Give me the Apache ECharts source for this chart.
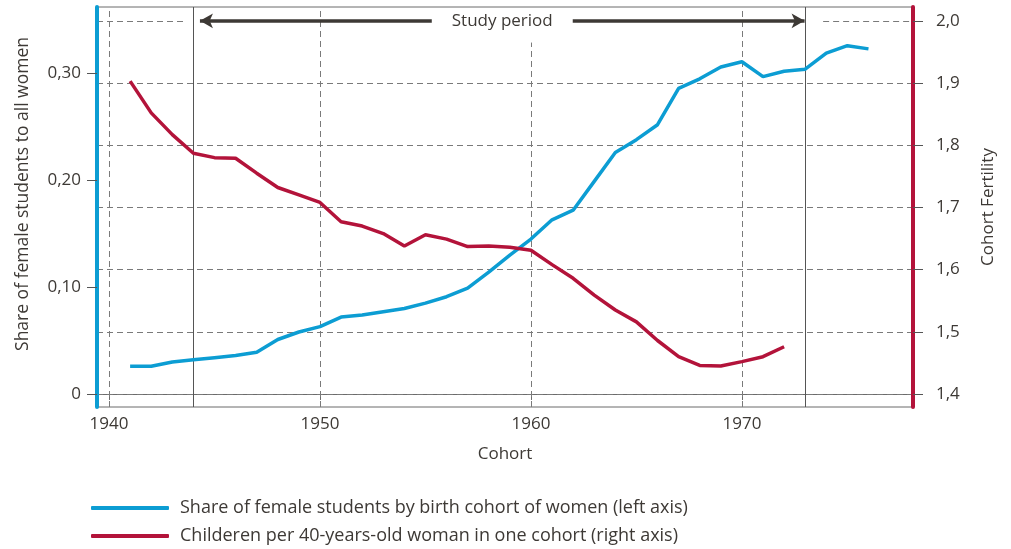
<!DOCTYPE html>
<html>
<head>
<meta charset="utf-8">
<script src="https://cdn.jsdelivr.net/npm/echarts@6/dist/echarts.min.js"></script>
<style>
html,body{margin:0;padding:0;background:#fff;}
#chart{width:1011px;height:549px;}
</style>
</head>
<body>
<div id="chart"></div>
<script>
// ---- data ----
const shareYears = [1941,1942,1943,1944,1945,1946,1947,1948,1949,1950,1951,1952,1953,1954,1955,1956,1957,1958,1959,1960,1961,1962,1963,1964,1965,1966,1967,1968,1969,1970,1971,1972,1973,1974,1975,1976];
const shareStudents = [0.026,0.026,0.030,0.032,0.034,0.036,0.039,0.051,0.058,0.063,0.072,0.074,0.077,0.080,0.085,0.091,0.099,0.114,0.130,0.145,0.163,0.172,0.199,0.226,0.238,0.252,0.286,0.295,0.306,0.311,0.297,0.302,0.304,0.319,0.326,0.323];
const fertilityYears = [1941,1942,1943,1944,1945,1946,1947,1948,1949,1950,1951,1952,1953,1954,1955,1956,1957,1958,1959,1960,1961,1962,1963,1964,1965,1966,1967,1968,1969,1970,1971,1972];
const fertility = [1.903,1.852,1.817,1.787,1.780,1.779,1.755,1.732,1.720,1.708,1.677,1.670,1.658,1.638,1.656,1.649,1.637,1.638,1.636,1.631,1.608,1.586,1.559,1.535,1.516,1.486,1.460,1.446,1.445,1.452,1.460,1.476];
const xTicks = [1940,1950,1960,1970];
const leftTicks = [0,0.1,0.2,0.3];
const rightTicks = [1.4,1.5,1.6,1.7,1.8,1.9,2.0];
const studyStart = 1944, studyEnd = 1973;
const seriesNames = ['Share of female students by birth cohort of women (left axis)','Childeren per 40-years-old woman in one cohort (right axis)'];

// ---- styles ----
const FONT = '"Open Sans", "Liberation Sans", sans-serif';
const TXT = '#3d3935';
const BLUE = '#0c9dd3';
const RED = '#b3133a';
const GRID = '#7a7a7a';
const X_MIN = 1939.43, X_MAX = 1978.11;
const L_MIN = -0.0122, L_MAX = 0.3622;
const R_MIN = 1.3791, R_MAX = 2.0222;

const dash = {color: GRID, width: 1, type: [6, 4]};
const hLines = rightTicks.filter(v => v !== 2.0).map(v => ({yAxis: v, lineStyle: dash}));
const topSegs = [
  [{coord:[X_MIN, 2.0], lineStyle: dash}, {coord:[studyStart - 0.4, 2.0]}],
  [{coord:[studyEnd + 0.85, 2.0], lineStyle: dash}, {coord:[X_MAX, 2.0]}]
];
const vLines = xTicks.filter(v => v !== 1960).map(v => ({xAxis: v, lineStyle: dash}));
const v1960 = [{coord:[1960, R_MIN], lineStyle: dash}, {coord:[1960, 1.965]}];
const solid = [studyStart, studyEnd].map(v => ({xAxis: v, lineStyle: {color: '#555', width: 1, type: 'solid'}}));
const arrow = [
  {coord:[studyStart + 0.31, 2.0], symbol: 'arrow', symbolSize: [11, 13],
   lineStyle: {color: TXT, width: 3.5, type: 'solid'},
   label: {show: true, position: 'middle', distance: 0, verticalAlign: 'middle', align: 'center',
           formatter: 'Study period', color: TXT, fontFamily: FONT, fontSize: 17,
           backgroundColor: '#fff', padding: [2, 20, 2, 20]}},
  {coord:[studyEnd - 0.03, 2.0], symbol: 'arrow', symbolSize: [11, 13]}
];

const chart = echarts.init(document.getElementById('chart'), null, {renderer: 'canvas'});
chart.setOption({
  animation: false,
  backgroundColor: '#fff',
  textStyle: {fontFamily: FONT, color: TXT},
  grid: {left: 97, right: 98, top: 7, bottom: 142, show: true, borderColor: '#6b6b6b', borderWidth: 1, backgroundColor: 'transparent'},
  legend: {
    orient: 'vertical', left: 91, top: 498, padding: 0, itemWidth: 78, itemHeight: 4, itemGap: 8,
    icon: 'roundRect',
    data: seriesNames,
    textStyle: {fontFamily: FONT, fontSize: 18, color: TXT, lineHeight: 20, padding: [0,0,0,6]}
  },
  xAxis: {
    type: 'value', min: X_MIN, max: X_MAX,
    name: 'Cohort', nameLocation: 'middle', nameGap: 39,
    nameTextStyle: {fontFamily: FONT, fontSize: 17, color: TXT},
    axisLine: {show: true, lineStyle: {color: '#6b6b6b', width: 1}},
    axisTick: {show: true, customValues: xTicks, length: 6, lineStyle: {color: '#6b6b6b'}},
    axisLabel: {customValues: xTicks, margin: 9, fontFamily: FONT, fontSize: 17, color: TXT, formatter: v => String(v)},
    splitLine: {show: false}
  },
  yAxis: [
    {
      type: 'value', position: 'left', min: L_MIN, max: L_MAX, z: 4,
      name: 'Share of female students to all women', nameLocation: 'middle', nameRotate: 90, nameGap: 65,
      nameTextStyle: {fontFamily: FONT, fontSize: 17.5, color: TXT, padding: [0,0,0,26]},
      axisLine: {show: true, lineStyle: {color: BLUE, width: 4}},
      axisTick: {show: true, customValues: leftTicks, length: 10, lineStyle: {color: '#555'}},
      axisLabel: {customValues: leftTicks, margin: 16, fontFamily: FONT, fontSize: 17, color: TXT,
                  formatter: v => Math.abs(v) < 1e-9 ? '0' : v.toFixed(2).replace('.', ',')},
      splitLine: {show: false}
    },
    {
      type: 'value', position: 'right', min: R_MIN, max: R_MAX, z: 4,
      name: 'Cohort Fertility', nameLocation: 'middle', nameRotate: 90, nameGap: 67,
      nameTextStyle: {fontFamily: FONT, fontSize: 17, color: TXT},
      axisLine: {show: true, lineStyle: {color: RED, width: 4}},
      axisTick: {show: true, customValues: rightTicks, length: 10, lineStyle: {color: '#555'}},
      axisLabel: {customValues: rightTicks, margin: 23, fontFamily: FONT, fontSize: 17, color: TXT,
                  formatter: v => v.toFixed(1).replace('.', ',')},
      splitLine: {show: false}
    }
  ],
  series: [
    {
      name: seriesNames[0], type: 'line', yAxisIndex: 0, z: 6,
      data: shareYears.map((y, i) => [y, shareStudents[i]]),
      showSymbol: false, symbol: 'none',
      lineStyle: {color: BLUE, width: 3.5}, itemStyle: {color: BLUE},
      markLine: {silent: true, z: 1, symbol: 'none', label: {show: false}, data: vLines.concat(solid)}
    },
    {
      name: seriesNames[1], type: 'line', yAxisIndex: 1, z: 6,
      data: fertilityYears.map((y, i) => [y, fertility[i]]),
      showSymbol: false, symbol: 'none',
      lineStyle: {color: RED, width: 3.5}, itemStyle: {color: RED},
      markLine: {silent: true, z: 2, symbol: 'none', label: {show: false},
                 data: hLines.concat(topSegs, [v1960], [arrow])}
    }
  ]
});
</script>
</body>
</html>
